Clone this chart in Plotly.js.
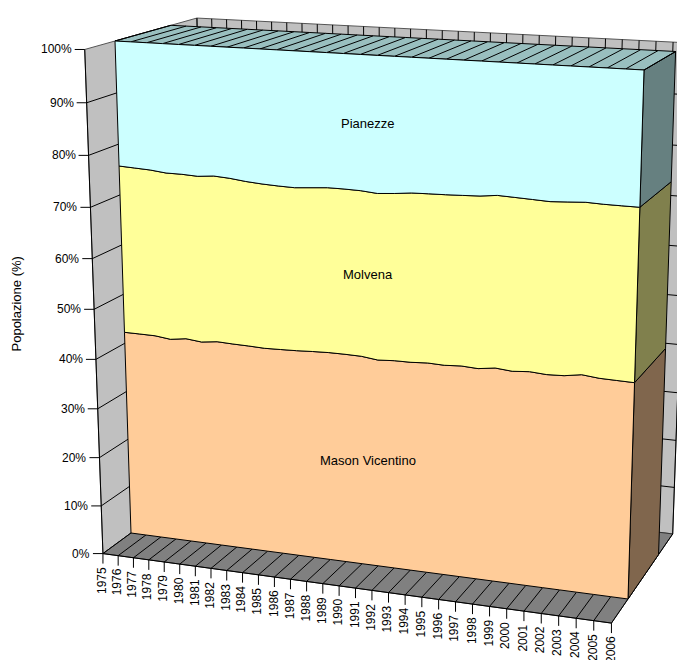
<!DOCTYPE html>
<html>
<head>
<meta charset="utf-8">
<script src="https://cdn.plot.ly/plotly-3.0.1.min.js"></script>
<style>html,body{margin:0;padding:0;background:#fff}#chart{width:677px;height:660px}</style>
</head>
<body>
<div id="chart"></div>
<script>
// Population share of the three comuni, percent per year
const years = [1975,1976,1977,1978,1979,1980,1981,1982,1983,1984,1985,1986,1987,1988,1989,1990,
               1991,1992,1993,1994,1995,1996,1997,1998,1999,2000,2001,2002,2003,2004,2005,2006];
const masonVicentino = [42.25,42.22,42.17,41.77,42.21,41.86,42.24,42.10,42.02,41.88,41.96,42.05,42.21,42.32,42.31,42.24,
                        41.83,42.03,42.04,42.24,42.12,42.32,42.14,42.59,42.29,42.55,42.32,42.45,42.98,42.63,42.55,42.47];
const molvena = [33.46,33.33,33.21,33.26,32.80,32.99,32.90,32.83,32.53,32.42,32.19,32.01,32.09,32.22,32.22,32.21,
                 32.33,32.37,32.70,32.59,32.78,32.69,33.00,32.91,33.08,32.68,32.76,32.81,32.47,32.70,32.75,32.81];
const pianezze = [24.29,24.45,24.62,24.97,24.99,25.15,24.86,25.07,25.45,25.70,25.85,25.94,25.70,25.46,25.47,25.55,
                  25.84,25.60,25.26,25.17,25.10,24.99,24.86,24.50,24.63,24.77,24.92,24.74,24.55,24.67,24.70,24.72];
const seriesNames = ["Mason Vicentino", "Molvena", "Pianezze"];
const percentTicks = [0,10,20,30,40,50,60,70,80,90,100];

const frontColors = ["#FFCC99", "#FFFF99", "#CCFFFF"];
const sideColors = ["#80664D", "#80804D", "#668080"];
const topColor = "#99BFBF";
const wallColor = "#C0C0C0";
const floorColor = "#808080";
const fontFamily = "Liberation Sans, Arial, sans-serif";

// Perspective camera: plane homography of the series front (depth 0) plus a
// vanishing point for the depth direction. u = year position, v = percent/100.
const [x0,x1,x2,x3] = [131,628,644,115];
const [y0,y1,y2,y3] = [533,599,70,41];
const sx = x0-x1+x2-x3, sy = y0-y1+y2-y3;
const dx1 = x1-x2, dx2 = x3-x2, dy1 = y1-y2, dy2 = y3-y2;
const den = dx1*dy2-dx2*dy1;
const g = (sx*dy2-dx2*sy)/den, h = (dx1*sy-sx*dy1)/den;
const a = x1-x0+g*x1, b = x3-x0+h*x3, d = y1-y0+g*y1, e = y3-y0+h*y3;
const vanish = [1225,-270], depthScale = 0.05;
const Z_AXIS = -0.5, Z_FRONT = 0, Z_BACK = 1, Z_WALL = 1.5;

function project(u, v, z) {
  const w = g*u+h*v+1+z*depthScale;
  return [(a*u+b*v+x0+z*depthScale*vanish[0])/w, (d*u+e*v+y0+z*depthScale*vanish[1])/w];
}
const uOf = i => i/(years.length-1);

function shape(points, fill, lineColor, width, name) {
  const closed = fill ? points.concat([points[0]]) : points;
  return {
    type:"scatter", mode:"lines", name:name||"", hoverinfo:"skip", showlegend:false,
    x:closed.map(p=>p?p[0]:null), y:closed.map(p=>p?p[1]:null),
    fill:fill?"toself":"none", fillcolor:fill||undefined,
    line:{color:lineColor, width:width===undefined?1:width, simplify:false}
  };
}
function segments(pairs, color, width) {
  const pts = [];
  pairs.forEach(s => { pts.push(s[0], s[1], null); });
  return shape(pts, null, color, width);
}

// Cumulative boundaries of the stacked series
const stacks = [masonVicentino, molvena, pianezze];
const lower = [], upper = [];
let running = years.map(()=>0);
stacks.forEach(s => {
  lower.push(running);
  running = running.map((r,i)=>r+s[i]);
  upper.push(running);
});

const traces = [];

// Back wall and side wall
traces.push(shape([project(0,0,Z_WALL),project(1,0,Z_WALL),project(1,1,Z_WALL),project(0,1,Z_WALL)], wallColor, "#555555"));
traces.push(shape([project(0,0,Z_AXIS),project(0,0,Z_WALL),project(0,1,Z_WALL),project(0,1,Z_AXIS)], wallColor, "#555555"));
// Floor
traces.push(shape([project(0,0,Z_AXIS),project(1,0,Z_AXIS),project(1,0,Z_WALL),project(0,0,Z_WALL)], floorColor, "#333333"));

// Wall and floor grid
const grid = [];
percentTicks.slice(1,-1).forEach(t => {
  grid.push([project(0,t/100,Z_AXIS),project(0,t/100,Z_WALL)]);
  grid.push([project(0,t/100,Z_WALL),project(1,t/100,Z_WALL)]);
});
years.forEach((y,i) => {
  grid.push([project(uOf(i),0,Z_WALL),project(uOf(i),1,Z_WALL)]);
  grid.push([project(uOf(i),0,Z_AXIS),project(uOf(i),0,Z_WALL)]);
});
traces.push(segments(grid, "#000000"));

// Right-hand end faces of the stacked volume
stacks.forEach((s,k) => {
  const n = years.length-1;
  traces.push(shape([
    project(1,lower[k][n]/100,Z_FRONT),project(1,upper[k][n]/100,Z_FRONT),
    project(1,upper[k][n]/100,Z_BACK),project(1,lower[k][n]/100,Z_BACK)
  ], sideColors[k], "#000000"));
});

// Top surface of the uppermost series, one strip per year
const topLine = upper[2];
const topBack = years.map((y,i)=>project(uOf(i),topLine[i]/100,Z_BACK));
const topFront = years.map((y,i)=>project(uOf(i),topLine[i]/100,Z_FRONT));
traces.push(shape(topFront.concat(topBack.slice().reverse()), topColor, "#000000"));
traces.push(segments(years.map((y,i)=>[topFront[i],topBack[i]]), "#000000"));

// Front faces
stacks.forEach((s,k) => {
  const bottom = years.map((y,i)=>project(uOf(i),lower[k][i]/100,Z_FRONT));
  const top = years.map((y,i)=>project(uOf(i),upper[k][i]/100,Z_FRONT));
  traces.push(shape(bottom.concat(top.slice().reverse()), frontColors[k], "#000000", 1, seriesNames[k]));
});

// Axis lines and tick marks on the front plane
const axisLines = [
  [project(0,0,Z_AXIS),project(0,1,Z_AXIS)],
  [project(0,0,Z_AXIS),project(1,0,Z_AXIS)]
];
percentTicks.forEach(t => {
  const p = project(0,t/100,Z_AXIS);
  axisLines.push([p,[p[0]-10,p[1]]]);
});
years.forEach((y,i) => {
  const p = project(uOf(i),0,Z_AXIS);
  axisLines.push([p,[p[0],p[1]+10]]);
});
traces.push(segments(axisLines, "#000000"));

// Text
const annotations = [];
const label = (x,y,text,opts) => annotations.push(Object.assign({
  x, y, xref:"x", yref:"y", text, showarrow:false,
  font:{family:fontFamily,size:12,color:"#000000"}, borderpad:0
},opts));

percentTicks.forEach(t => {
  const p = project(0,t/100,Z_AXIS);
  label(p[0]-12,p[1],t+"%",{xanchor:"right",yanchor:"middle"});
});
years.forEach((y,i) => {
  const p = project(uOf(i),0,Z_AXIS);
  label(p[0]-1,p[1]+12,String(y),{xanchor:"center",yanchor:"top",textangle:-90});
});
const labelLift = [2, 1, 0];
stacks.forEach((s,k) => {
  const mid = Math.round(years.length/2)-1;
  const v = (lower[k][mid]+upper[k][mid])/200;
  const p = project(0.5,v,Z_FRONT);
  label(p[0]-1.5,p[1]-labelLift[k],seriesNames[k],{xanchor:"center",yanchor:"middle",font:{family:fontFamily,size:13,color:"#000000"}});
});
label(16,304.5,"Popolazione (%)",{xanchor:"center",yanchor:"middle",textangle:-90,font:{family:fontFamily,size:13,color:"#000000"}});

Plotly.newPlot("chart", traces, {
  width:677, height:660,
  margin:{l:0,r:0,t:0,b:0,pad:0},
  paper_bgcolor:"#FFFFFF", plot_bgcolor:"#FFFFFF",
  showlegend:false, hovermode:false,
  xaxis:{range:[0,677],visible:false,fixedrange:true},
  yaxis:{range:[660,0],visible:false,fixedrange:true},
  annotations
},{displayModeBar:false,responsive:false});
</script>
</body>
</html>
